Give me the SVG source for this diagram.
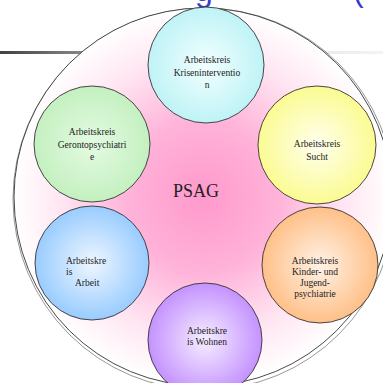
<svg xmlns="http://www.w3.org/2000/svg" width="383" height="383" viewBox="0 0 383 383">
  <defs>
    <linearGradient id="bar" x1="0" y1="0" x2="1" y2="0">
      <stop offset="0" stop-color="#404040"/>
      <stop offset="0.22" stop-color="#8a8a8a"/>
      <stop offset="0.8" stop-color="#e8e8e8"/>
      <stop offset="1" stop-color="#f4f4f4"/>
    </linearGradient>
    <radialGradient id="hub" cx="0.5" cy="0.5" r="0.5">
      <stop offset="0" stop-color="#ff99cc"/>
      <stop offset="0.4" stop-color="#ffb3d9"/>
      <stop offset="0.75" stop-color="#ffe6f2"/>
      <stop offset="1" stop-color="#ffffff"/>
    </radialGradient>
    <radialGradient id="gCyan"><stop offset="0" stop-color="#f2ffff"/><stop offset="1" stop-color="#bff3f6"/></radialGradient>
    <radialGradient id="gYellow"><stop offset="0" stop-color="#ffffee"/><stop offset="1" stop-color="#fbfb92"/></radialGradient>
    <radialGradient id="gGreen"><stop offset="0" stop-color="#e4fbe2"/><stop offset="1" stop-color="#c4f0c0"/></radialGradient>
    <radialGradient id="gBlue"><stop offset="0" stop-color="#eef6ff"/><stop offset="1" stop-color="#99ccff"/></radialGradient>
    <radialGradient id="gOrange"><stop offset="0" stop-color="#fff2e6"/><stop offset="1" stop-color="#ffc088"/></radialGradient>
    <radialGradient id="gPurple"><stop offset="0" stop-color="#f6eeff"/><stop offset="1" stop-color="#c492ff"/></radialGradient>
  </defs>
  <style>
    .ring { stroke: #333; stroke-width: 0.9; }
    .lbl { font-family: "Liberation Serif", "Times New Roman", serif; font-size: 9.5px; fill: #222; text-anchor: middle; }
    .lft { text-anchor: start; }
    .hub { font-family: "Liberation Serif", "Times New Roman", serif; font-size: 18px; fill: #222; text-anchor: middle; }
    .title { font-family: "Liberation Sans", Arial, sans-serif; font-size: 32px; fill: #3a3acc; }
  </style>

  <rect width="383" height="383" fill="#ffffff"/>

  <!-- heading, mostly above the visible area -->
  <text class="title" y="1"><tspan x="-12">y</tspan><tspan x="195">g</tspan><tspan x="353">(</tspan></text>

  <!-- rule under the heading -->
  <rect x="0" y="51" width="383" height="3" fill="url(#bar)"/>

  <!-- outer disc -->
  <g id="psag">
    <circle cx="204" cy="199" r="191" fill="none" stroke="#444" stroke-width="0.8" opacity="0.7"/>
    <circle cx="203" cy="197" r="189" fill="url(#hub)" stroke="#333" stroke-width="0.9"/>
    <text class="hub" x="196" y="197">PSAG</text>
  </g>

  <g id="connectors"></g>

  <g id="ak-krisenintervention">
    <circle class="ring" cx="206" cy="65" r="58" fill="url(#gCyan)"/>
    <text class="lbl" x="207" y="63">Arbeitskreis</text>
    <text class="lbl" x="207" y="75.5">Kriseninterventio</text>
    <text class="lbl" x="207" y="88">n</text>
  </g>

  <g id="ak-sucht">
    <circle class="ring" cx="317" cy="145" r="59" fill="url(#gYellow)"/>
    <text class="lbl" x="317" y="147">Arbeitskreis</text>
    <text class="lbl" x="317" y="159.5">Sucht</text>
  </g>

  <g id="ak-gerontopsychiatrie">
    <circle class="ring" cx="92" cy="144" r="58" fill="url(#gGreen)"/>
    <text class="lbl" x="92" y="135">Arbeitskreis</text>
    <text class="lbl" x="92" y="147.5">Gerontopsychiatri</text>
    <text class="lbl" x="92" y="160">e</text>
  </g>

  <g id="ak-arbeit">
    <circle class="ring" cx="92" cy="263" r="57" fill="url(#gBlue)"/>
    <text class="lbl lft" x="66" y="264">Arbeitskre</text>
    <text class="lbl lft" x="66" y="275">is</text>
    <text class="lbl lft" x="75" y="286">Arbeit</text>
  </g>

  <g id="ak-kinder-jugend">
    <circle class="ring" cx="320" cy="265" r="58" fill="url(#gOrange)"/>
    <text class="lbl" x="315" y="264">Arbeitskreis</text>
    <text class="lbl" x="315" y="275">Kinder-  und</text>
    <text class="lbl" x="315" y="286">Jugend-</text>
    <text class="lbl" x="315" y="297">psychiatrie</text>
  </g>

  <g id="ak-wohnen">
    <circle class="ring" cx="205" cy="340" r="57" fill="url(#gPurple)"/>
    <text class="lbl" x="207" y="334">Arbeitskre</text>
    <text class="lbl" x="207" y="345">is Wohnen</text>
  </g>
</svg>
